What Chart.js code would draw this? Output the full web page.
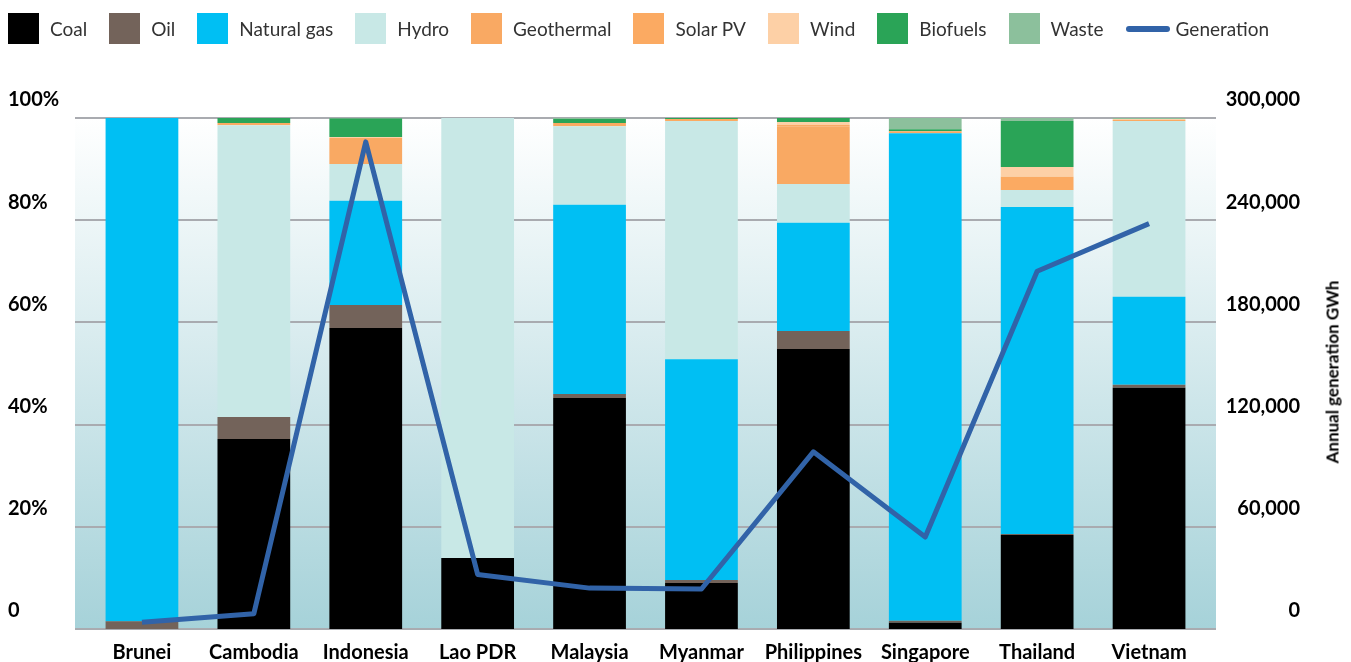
<!DOCTYPE html>
<html>
<head>
<meta charset="utf-8">
<script src="https://cdn.jsdelivr.net/npm/chart.js@4.4.1/dist/chart.umd.min.js"></script>
<style>
  body { margin: 0; background: #fff; font-family: Lato, "Open Sans", sans-serif; }
  #wrap { position: relative; width: 1351px; height: 662px; }
  #legend { position: absolute; left: 8px; top: 13px; display: flex; align-items: center; font-size: 19px; color: #333; }
  #legend .item { display: flex; align-items: center; margin-right: 22px; }
  #legend .box { width: 31px; height: 31px; margin-right: 11px; }
  #legend .ln { width: 44px; height: 6px; border-radius: 3px; margin-right: 6px; }
  #ytitle { position: absolute; left: 1332px; top: 372px; transform: translate(-50%, -50%) rotate(-90deg);
    white-space: nowrap; font-weight: bold; font-size: 17px; color: #000; }
</style>
</head>
<body>
<div id="wrap">
  <canvas id="mycanvas" width="1351" height="662"></canvas>
  <div id="legend"></div>
  <div id="ytitle">Annual generation GWh</div>
</div>
<script>
var countries = ["Brunei", "Cambodia", "Indonesia", "Lao PDR", "Malaysia", "Myanmar", "Philippines", "Singapore", "Thailand", "Vietnam"];

// share of generation, %
var coal       = [0,    37.2, 58.9, 13.9, 45.2, 9.0,  54.8, 1.2,  18.4, 47.2];
var oil        = [1.5,  4.3,  4.5,  0,    0.8,  0.6,  3.5,  0.4,  0.2,  0.6];
var naturalGas = [98.5, 0,    20.4, 0,    37.0, 43.2, 21.2, 95.4, 64.0, 17.2];
var hydro      = [0,    57.1, 7.2,  86.1, 15.4, 46.6, 7.6,  0,    3.3,  34.4];
var geothermal = [0,    0,    4.9,  0,    0,    0,    11.3, 0,    0,    0];
var solarPV    = [0,    0.4,  0.2,  0,    0.6,  0.4,  0.3,  0.4,  2.6,  0.2];
var wind       = [0,    0,    0.2,  0,    0,    0,    0.5,  0,    1.9,  0.2];
var biofuels   = [0,    1.0,  3.6,  0,    0.8,  0.2,  0.8,  0.4,  9.0,  0];
var waste      = [0,    0,    0.1,  0,    0.2,  0,    0,    2.2,  0.6,  0.2];

// annual generation, GWh
var generation = [4000, 9000, 286000, 32000, 24000, 23500, 104000, 54000, 210000, 238000];

var pctTicks = [0, 20, 40, 60, 80, 100];
var gwhTicks = [0, 60000, 120000, 180000, 240000, 300000];

var series = [
  { label: "Coal", data: coal, color: "#000000" },
  { label: "Oil", data: oil, color: "#73635a" },
  { label: "Natural gas", data: naturalGas, color: "#00bff3" },
  { label: "Hydro", data: hydro, color: "#c8e8e6" },
  { label: "Geothermal", data: geothermal, color: "#f9a963" },
  { label: "Solar PV", data: solarPV, color: "#fbaa62" },
  { label: "Wind", data: wind, color: "#fdd0a6" },
  { label: "Biofuels", data: biofuels, color: "#2aa457" },
  { label: "Waste", data: waste, color: "#8cc09c" }
];
var lineColor = "#3163a8";

var datasets = [];
for (var i in series) {
  datasets.push({
    type: "bar",
    label: series[i].label,
    data: series[i].data,
    backgroundColor: series[i].color,
    borderWidth: 0,
    yAxisID: "y",
    stack: "mix",
    order: 1,
    barPercentage: 0.65,
    categoryPercentage: 1
  });
}
datasets.push({
  type: "line",
  label: "Generation",
  data: generation,
  borderColor: lineColor,
  backgroundColor: lineColor,
  borderWidth: 5,
  borderJoinStyle: "round",
  pointRadius: 0,
  tension: 0,
  fill: false,
  yAxisID: "y1",
  order: 0
});

// html legend
var lg = document.getElementById("legend");
for (var i in series) {
  lg.innerHTML += '<div class="item"><div class="box" style="background:' + series[i].color + '"></div>' + series[i].label + '</div>';
}
lg.innerHTML += '<div class="item"><div class="ln" style="background:' + lineColor + '"></div>Generation</div>';

// gradient panel + grid lines, a bit wider than the category band
var panel = {
  id: "panel",
  beforeDatasetsDraw: function(chart) {
    var ctx = chart.ctx, a = chart.chartArea, y = chart.scales.y;
    var l = a.left - 11, r = a.right + 11;
    var g = ctx.createLinearGradient(0, a.top, 0, a.bottom);
    g.addColorStop(0, "#ffffff");
    g.addColorStop(1, "#a6d2d9");
    ctx.save();
    ctx.fillStyle = g;
    ctx.fillRect(l, a.top, r - l, a.bottom - a.top);
    ctx.strokeStyle = "#a9abb0";
    ctx.lineWidth = 2;
    pctTicks.forEach(function(t) {
      var py = Math.round(y.getPixelForValue(t));
      ctx.beginPath();
      ctx.moveTo(l, py);
      ctx.lineTo(r, py);
      ctx.stroke();
    });
    ctx.restore();
  }
};

var tickFont = { family: "Lato", weight: "bold", size: 20 };

var ctx = document.getElementById("mycanvas");
var chart = new Chart(ctx, {
  data: { labels: countries, datasets: datasets },
  plugins: [panel],
  options: {
    responsive: false,
    animation: false,
    layout: { padding: { left: 8, right: 51, top: 118, bottom: 0 } },
    plugins: { legend: { display: false }, tooltip: { enabled: false } },
    scales: {
      x: {
        stacked: true,
        afterFit: function(s) { s.height = 33; },
        grid: { display: false },
        border: { display: false },
        ticks: { color: "#000", font: tickFont, padding: 4, maxRotation: 0 }
      },
      y: {
        stacked: true,
        min: 0, max: 100,
        afterBuildTicks: function(s) { s.ticks = pctTicks.map(function(v) { return { value: v }; }); },
        afterFit: function(s) { s.width = 78; },
        grid: { display: false },
        border: { display: false },
        ticks: {
          crossAlign: "far",
          labelOffset: -18,
          color: "#000",
          font: tickFont,
          callback: function(v) { return v === 0 ? "0" : v + "%"; }
        }
      },
      y1: {
        position: "right",
        stacked: false,
        min: 0, max: 300000,
        afterBuildTicks: function(s) { s.ticks = gwhTicks.map(function(v) { return { value: v }; }); },
        afterFit: function(s) { s.width = 95; },
        grid: { display: false },
        border: { display: false },
        ticks: {
          crossAlign: "far",
          labelOffset: -18,
          color: "#000",
          font: tickFont,
          callback: function(v) { return v.toLocaleString("en-US"); }
        }
      }
    }
  }
});
</script>
</body>
</html>
